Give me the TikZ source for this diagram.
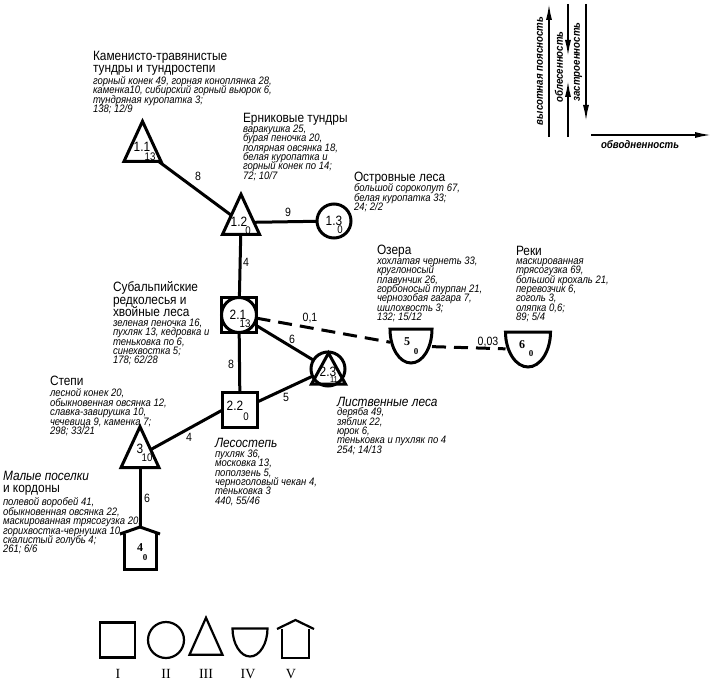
\documentclass[tikz,border=0pt]{standalone}
\usepackage{fontspec}
\setmainfont{Liberation Sans}[FakeStretch=0.88]
\newfontfamily\romfont{Liberation Serif}
\usetikzlibrary{shapes.geometric,arrows.meta,calc}
\pgfdeclarelayer{bg}
\pgfsetlayers{bg,main}
\setlength{\lineskiplimit}{-20pt}
\tikzset{
    every node/.style={inner sep=0pt, outer sep=0pt},
    site/.style={draw, line width=3pt, minimum size=#1},
    sq/.style={site=#1, rectangle},
    ring/.style={site=#1, circle},
    tri/.style={draw, line width=3pt, isosceles triangle, isosceles triangle stretches,
        shape border rotate=90, minimum width=#1, minimum height=40pt},
    hull/.style={draw=none, rectangle},
    outline/.style={line width=3pt, line join=miter},
    link/.style={line width=3pt},
    dlink/.style={line width=3pt, dash pattern=on 14pt off 8pt},
    num/.style={font=\fontsize{13.5}{13.5}\selectfont},
    sub/.style={font=\fontsize{11}{11}\selectfont},
    bnum/.style={font=\romfont\bfseries\fontsize{12}{12}\selectfont},
    bsub/.style={font=\romfont\bfseries\fontsize{9}{9}\selectfont},
    elab/.style={font=\fontsize{12}{12}\selectfont},
    ttl/.style={anchor=north west, align=left, font=\fontsize{13.5}{12.5}\selectfont},
    lst/.style={anchor=north west, align=left, font=\fontsize{10.8}{9.35}\selectfont\itshape},
    axis/.style={line width=2pt, -{Latex[length=17pt,width=6pt]}},
    axl/.style={font=\fontsize{11}{11}\selectfont\bfseries\itshape},
    leg/.style={line width=2.2pt},
    rom/.style={font=\romfont\fontsize{14}{14}\selectfont}
}

\begin{document}
\begin{tikzpicture}[x=1pt, y=1pt]
  \useasboundingbox (0,0) rectangle (714,-682);

  \node (n11) [tri=37pt] at (142.5,-149.5) {};
  \node (n12) [tri=37pt] at (241,-222.5) {};
  \node (n13) [ring=34pt] at (334,-221) {};
  \node (n21) [sq=35pt] at (239,-315) {};
  \node (n21c) [ring=35pt] at (239,-315) {};
  \node (n22) [sq=35pt] at (240,-410) {};
  \node (n23) [ring=34pt] at (328,-369) {};
  \node (n23t) [tri=34pt, minimum height=31pt] at (328.5,-374) {};
  \node (n3) [tri=38pt, minimum height=41pt] at (140,-455.5) {};
  \node (n4) [hull, minimum width=32pt, minimum height=35pt] at (140,-551.5) {};
  \node (n5) [hull, minimum width=42pt, minimum height=34pt] at (411,-346) {};
  \node (n6) [hull, minimum width=45pt, minimum height=35pt] at (528,-349.5) {};
  \coordinate (roof4) at ($(n4.north)+(0,7)$);

  \draw [outline] ($(n4.north west)+(-4,0)$) -- (roof4) -- ($(n4.north east)+(4,0)$);
  \draw [outline] (n4.north west) -- (n4.south west) -- (n4.south east) -- (n4.north east);
  \draw [outline] (n5.north west) -- (n5.north east) .. controls +(0,-19) and +(11.6,0) .. (n5.south)
    .. controls +(-11.6,0) and +(0,-19) .. (n5.north west) -- cycle;
  \draw [outline] (n6.north west) -- (n6.north east) .. controls +(0,-19) and +(12.4,0) .. (n6.south)
    .. controls +(-12.4,0) and +(0,-19) .. (n6.north west) -- cycle;

  \node (l11) [num] at (142,-147) {1.1};
  \node (s11) [sub] at (150,-157) {13};
  \node (l12) [num] at (239,-222) {1.2};
  \node (s12) [sub] at (248,-231) {0};
  \node (l13) [num] at (334,-221) {1.3};
  \node (s13) [sub] at (340,-230) {0};
  \node (l21) [num] at (238,-315) {2.1};
  \node (s21) [sub] at (245,-324) {13};
  \node (l22) [num] at (235,-406) {2.2};
  \node (s22) [sub] at (246,-417) {0};
  \node (l23) [num] at (328,-372) {2.3};
  \node (s23) [font=\fontsize{8.5}{8.5}\selectfont] at (334,-380) {11};
  \node (l3) [num] at (140,-449) {3};
  \node (s3) [sub] at (147,-458) {10};
  \node (l4) [bnum] at (140,-548) {4};
  \node (s4) [bsub] at (145,-558) {0};
  \node (l5) [bnum] at (407,-342) {5};
  \node (s5) [bsub] at (416,-352) {0};
  \node (l6) [bnum] at (522,-345) {6};
  \node (s6) [bsub] at (531,-354) {0};

  \begin{pgfonlayer}{bg}
    \draw [link] (n11) edge (n12);
    \draw [link] (n12) edge (n13);
    \draw [link] (n12) edge (n21);
    \draw [link] (n21) edge (n22);
    \draw [link] (n21) edge (n23);
    \draw [link] (n22) edge (n23);
    \draw [link] (n22.west) edge (n3);
    \draw [link] (n3) edge (roof4);
    \draw [dlink] (n21) edge (n5);
    \draw [dlink] (n5) edge (n6);
  \end{pgfonlayer}

  \node (e1) [elab] at (198,-176) {8};
  \node (e2) [elab] at (288,-212) {9};
  \node (e3) [elab] at (246,-262) {4};
  \node (e4) [elab] at (310,-318) {0,1};
  \node (e5) [elab] at (292,-339) {6};
  \node (e6) [elab] at (231,-364) {8};
  \node (e7) [elab] at (286,-397) {5};
  \node (e8) [elab] at (189,-437) {4};
  \node (e9) [elab] at (147,-498) {6};
  \node (e10) [elab] at (488,-342) {0,03};

  \node (t11) [ttl] at (93,-51) {Каменисто-травянистые\\тундры и тундростепи};
  \node (b11) [lst] at (93,-76.5) {горный конек 49, горная коноплянка 28,\\каменка10, сибирский горный вьюрок 6,\\тундряная куропатка 3;\\138; 12/9};
  \node (t12) [ttl] at (243,-113) {Ерниковые тундры};
  \node (b12) [lst] at (243,-125) {варакушка 25,\\бурая пеночка 20,\\полярная овсянка 18,\\белая куропатка и\\горный конек по 14;\\72; 10/7};
  \node (t13) [ttl] at (354,-172) {Островные леса};
  \node (b13) [lst] at (354,-184) {большой сорокопут 67,\\белая куропатка 33;\\24; 2/2};
  \node (t21) [ttl] at (113,-281.5) {Субальпийские\\редколесья и\\хвойные леса};
  \node (b21) [lst] at (113,-319) {зеленая пеночка 16,\\пухляк 13, кедровка и\\теньковка по 6,\\синехвостка 5;\\178; 62/28};
  \node (t5) [ttl] at (377,-245) {Озера};
  \node (b5) [lst] at (377,-257) {хохлатая чернеть 33,\\круглоносый\\плавунчик 26,\\горбоносый турпан 21,\\чернозобая гагара 7,\\шилохвость 3;\\132; 15/12};
  \node (t6) [ttl] at (516,-246) {Реки};
  \node (b6) [lst] at (516,-258.5) {маскированная\\трясогузка 69,\\большой крохаль 21,\\перевозчик 6,\\гоголь 3,\\оляпка 0,6;\\89; 5/4};
  \node (t3) [ttl] at (50,-376) {Степи};
  \node (b3) [lst] at (50,-389) {лесной конек 20,\\обыкновенная овсянка 12,\\славка-завирушка 10,\\чечевица 9, каменка 7;\\298; 33/21};
  \node (t4) [ttl] at (3,-471) {\textit{Малые поселки}\\и кордоны};
  \node (b4) [lst] at (3,-498) {полевой воробей 41,\\обыкновенная овсянка 22,\\маскированная трясогузка 20,\\горихвостка-чернушка 10,\\скалистый голубь 4;\\261; 6/6};
  \node (t22) [ttl] at (215,-438) {\textit{Лесостепь}};
  \node (b22) [lst] at (215,-450) {пухляк 36,\\московка 13,\\поползень 5,\\черноголовый чекан 4,\\теньковка 3\\440, 55/46};
  \node (t23) [ttl] at (337,-397) {\textit{Лиственные леса}};
  \node (b23) [lst] at (337,-408) {деряба 49,\\зяблик 22,\\юрок 6,\\теньковка и пухляк по 4\\254; 14/13};

  \coordinate (a1s) at (549,-137);
  \coordinate (a1e) at (549,-3);
  \coordinate (a2s) at (568,-4);
  \coordinate (a2e) at (568,-57);
  \coordinate (a2t) at (568,-137);
  \coordinate (a2u) at (568,-80);
  \coordinate (a3s) at (586,-4);
  \coordinate (a3e) at (586,-122);
  \coordinate (a4s) at (591,-135);
  \coordinate (a4e) at (712,-135);
  \draw [axis] (a1s) -- (a1e);
  \draw [axis] (a2s) -- (a2e);
  \draw [axis] (a2t) -- (a2u);
  \draw [axis] (a3s) -- (a3e);
  \draw [axis] (a4s) -- (a4e);
  \node (h1) [axl, rotate=90] at (540,-71) {высотная поясность};
  \node (h2) [axl, rotate=90] at (559,-67) {облесенность};
  \node (h3) [axl, rotate=90] at (578,-62) {застроенность};
  \node (h4) [axl] at (640,-145) {обводненность};

  \node (g1) [rectangle, draw, leg, minimum size=35pt] at (117.5,-640) {};
  \node (g2) [circle, draw, leg, minimum size=36pt] at (166,-640) {};
  \node (g3) [draw, leg, isosceles triangle, isosceles triangle stretches, shape border rotate=90,
    minimum width=33pt, minimum height=37pt] at (206,-644) {};
  \node (g4) [hull, minimum width=35pt, minimum height=28pt] at (250,-642.5) {};
  \node (g5) [hull, minimum width=27pt, minimum height=29pt] at (295.5,-643.5) {};
  \draw [leg, line join=miter] (g4.north west) -- (g4.north east) .. controls +(0,-15) and +(9.7,0) .. (g4.south)
    .. controls +(-9.7,0) and +(0,-15) .. (g4.north west) -- cycle;
  \draw [leg, line join=miter] ($(g5.north west)+(-5,0)$) -- ($(g5.north)+(0,9)$) -- ($(g5.north east)+(5,0)$);
  \draw [leg, line join=miter] (g5.north west) -- (g5.south west) -- (g5.south east) -- (g5.north east);
  \node (r1) [rom] at (118,-674) {I};
  \node (r2) [rom] at (166,-674) {II};
  \node (r3) [rom] at (206,-674) {III};
  \node (r4) [rom] at (248,-674) {IV};
  \node (r5) [rom] at (291,-674) {V};
\end{tikzpicture}
\end{document}
